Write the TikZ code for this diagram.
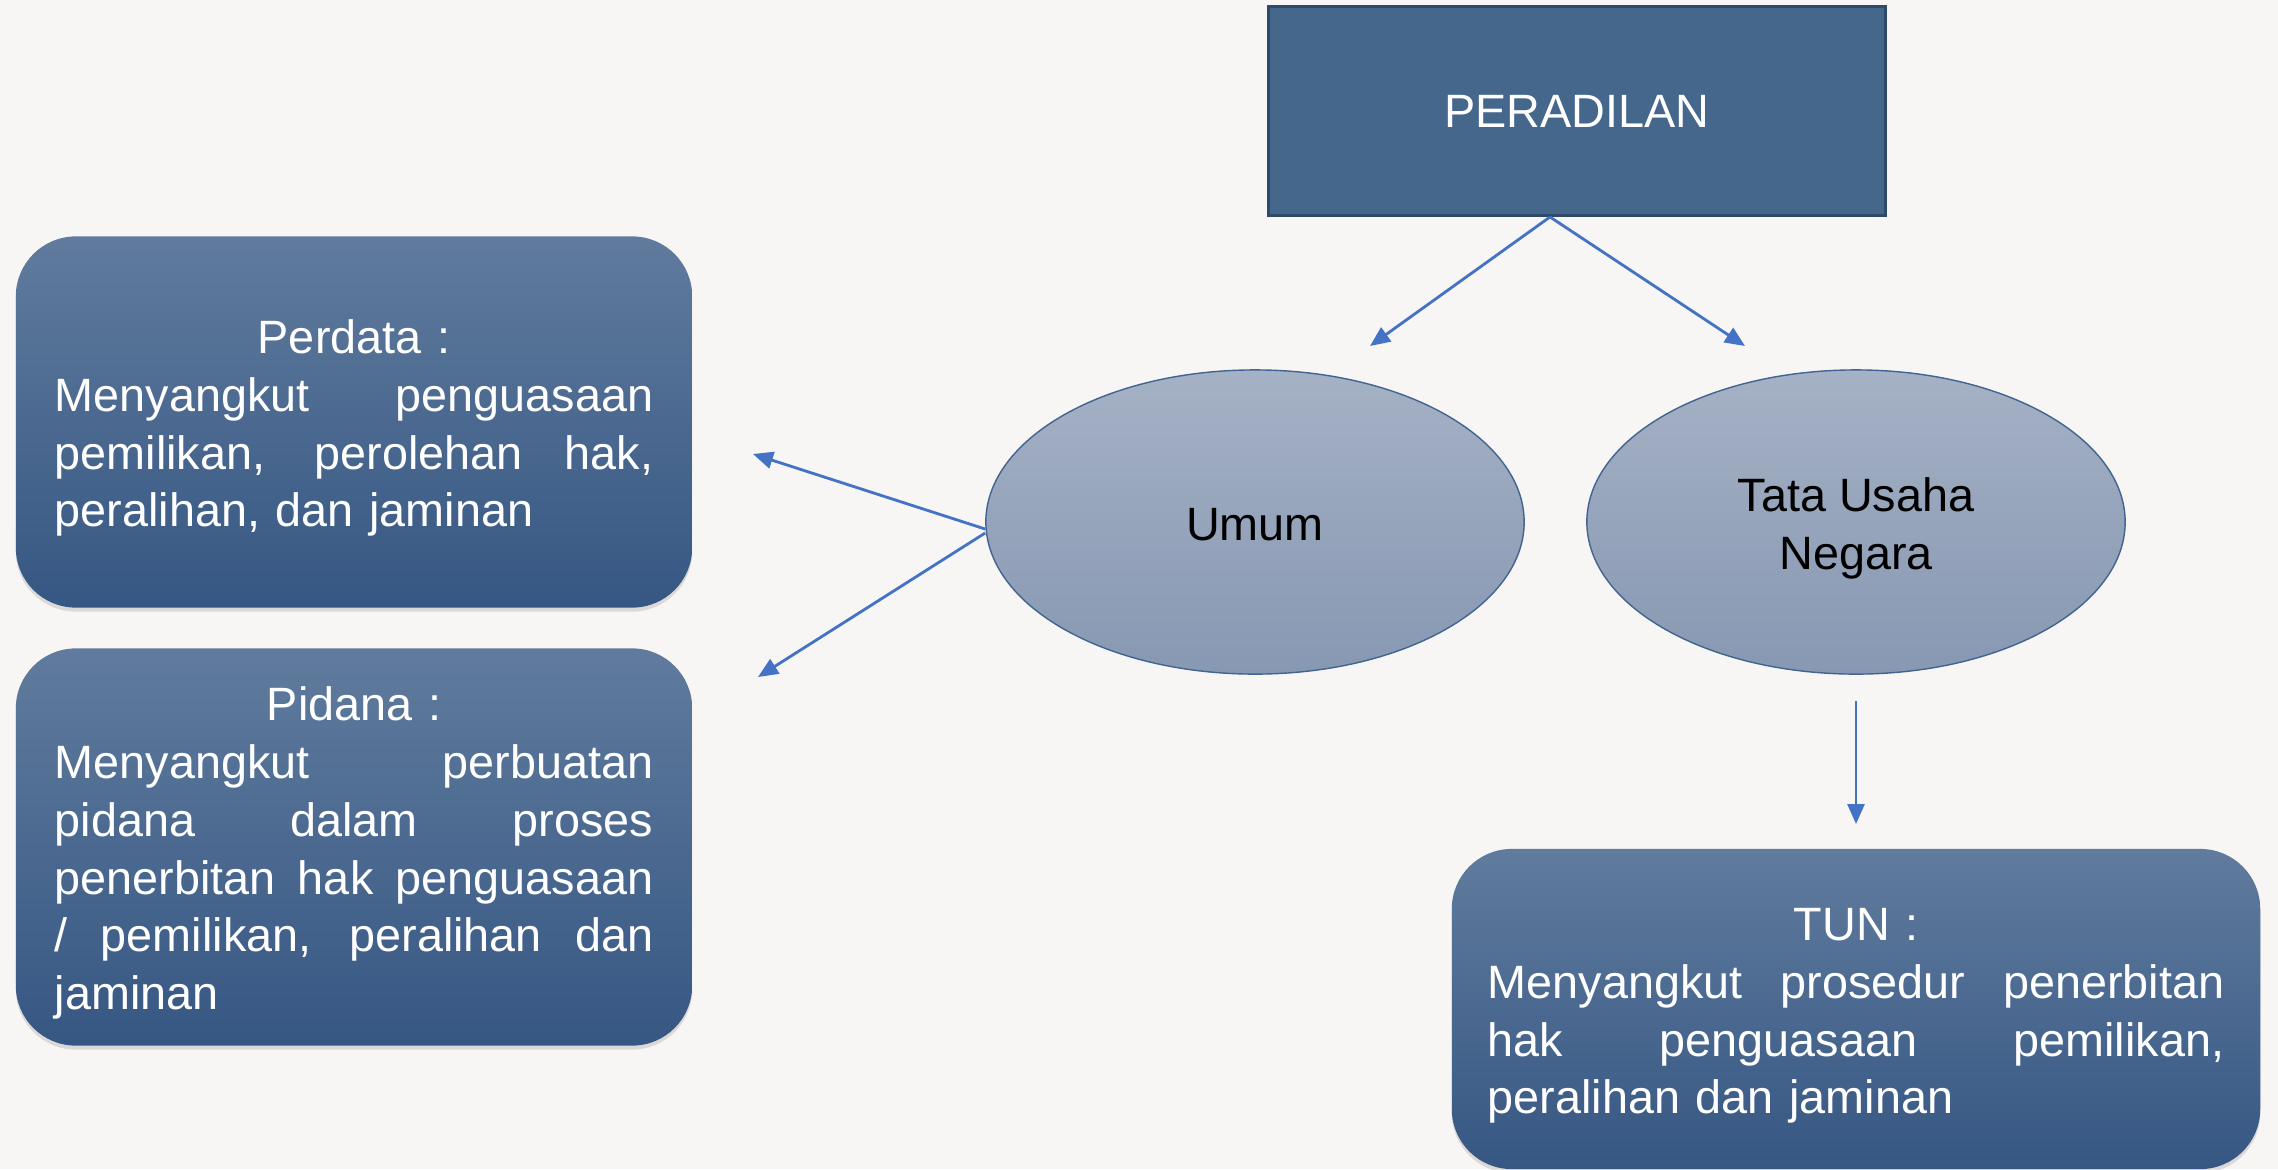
\documentclass[tikz,border=0pt]{standalone}
\usepackage{fontspec}
\setmainfont{Liberation Sans}
\usetikzlibrary{shapes.geometric,arrows.meta,shadows}
\definecolor{bgcol}{RGB}{247,246,244}
\definecolor{headfill}{RGB}{69,103,140}
\definecolor{headline}{RGB}{47,74,105}
\definecolor{boxtop}{RGB}{96,123,157}
\definecolor{boxbot}{RGB}{54,87,131}
\definecolor{ovaltop}{RGB}{165,177,197}
\definecolor{ovalbot}{RGB}{135,152,178}
\definecolor{ovalline}{RGB}{65,100,145}
\definecolor{arrowcol}{RGB}{68,114,196}
\newcommand{\jline}[1]{{\spaceskip=0.28em plus 4em minus 0.05em\makebox[\linewidth][s]{#1}}}
\newcommand{\midline}[1]{\makebox[\linewidth][c]{\rule{0pt}{0.46cm}#1}}
\begin{document}
\begin{tikzpicture}[x=0.01cm,y=-0.01cm]
\tikzstyle{every node}=[font=\fontsize{13.3pt}{16.4pt}\selectfont]
\tikzstyle{headbox}=[draw=headline, fill=headfill, text=white, line width=0.8pt, minimum width=6.17cm, minimum height=2.09cm]
\tikzstyle{branch}=[ellipse, draw=ovalline, top color=ovaltop, bottom color=ovalbot, align=center, inner sep=0pt, minimum width=5.38cm, minimum height=3.04cm]
\tikzstyle{infobox}=[rounded corners=0.6cm, top color=boxtop, bottom color=boxbot, text=white, align=left, drop shadow={shadow xshift=0cm, shadow yshift=-0.04cm, opacity=0.2, fill=black!60}]
\tikzstyle{link}=[draw=arrowcol, line width=0.8pt, -{Triangle[length=0.2cm,width=0.17cm]}]
\fill[bgcol] (0,0) rectangle (2278,1169);
\useasboundingbox (0,0) rectangle (2278,1169);
% top of the tree
\node[headbox] (peradilan) at (1577,111) {PERADILAN};
\node[branch] (umum) at (1255,522) {\rule{0pt}{0.38cm}Umum};
\node[branch] (tatausaha) at (1856,522) {\rule{0pt}{0.46cm}Tata Usaha\\Negara};
% the three explanation boxes
\node[infobox, minimum width=6.76cm, minimum height=3.71cm, text width=5.98cm] (perdata) at (354,422) {%
\midline{Perdata :}\\
\jline{Menyangkut penguasaan}\\
\jline{pemilikan, perolehan hak,}\\
peralihan, dan jaminan};
\node[infobox, minimum width=6.76cm, minimum height=3.97cm, text width=5.98cm] (pidana) at (354,847) {%
\midline{Pidana :}\\
\jline{Menyangkut perbuatan}\\
\jline{pidana dalam proses}\\
\jline{penerbitan hak penguasaan}\\
\jline{/ pemilikan, peralihan dan}\\
jaminan};
\node[infobox, minimum width=8.08cm, minimum height=3.2cm, text width=7.36cm] (tunbox) at (1856,1009) {%
\midline{TUN :}\\
\jline{Menyangkut prosedur penerbitan}\\
\jline{hak penguasaan pemilikan,}\\
peralihan dan jaminan};
% free arrow ends
\coordinate (TipUmum)    at (1370,346);
\coordinate (TipTata)    at (1745,346);
\coordinate (TipPerdata) at (753,454);
\coordinate (TipPidana)  at (758,677);
\coordinate (TipTun)     at (1856,824);
\draw[link] ([xshift=-0.27cm]peradilan.south) -- (TipUmum);
\draw[link] ([xshift=-0.27cm]peradilan.south) -- (TipTata);
\draw[link] ([yshift=-0.07cm]umum.west) -- (TipPerdata);
\draw[link] ([yshift=-0.11cm]umum.west) -- (TipPidana);
\draw[link] ([yshift=-0.26cm]tatausaha.south) -- (TipTun);
\end{tikzpicture}
\end{document}
